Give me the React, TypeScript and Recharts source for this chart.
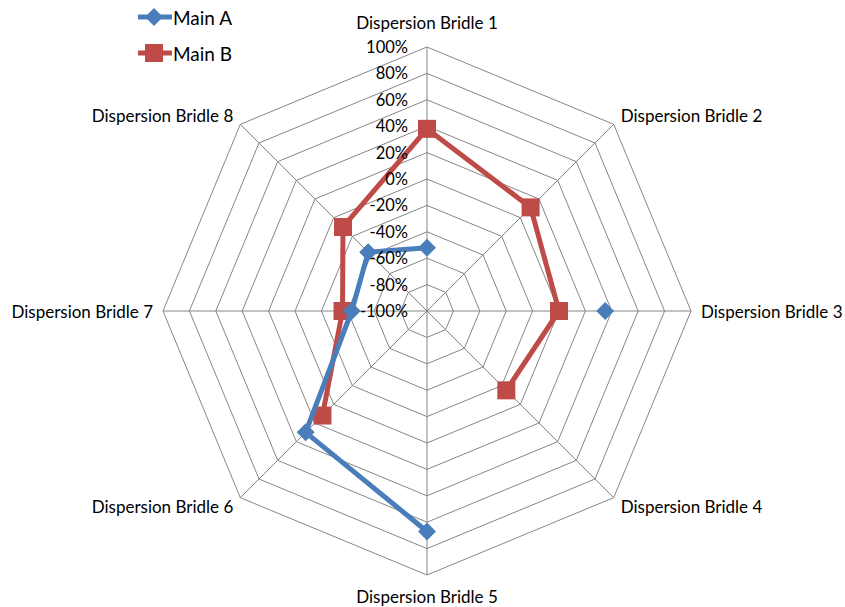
import React from 'react'
import { RadarChart, PolarGrid, PolarAngleAxis, PolarRadiusAxis, Radar, Legend } from 'recharts'

const bridles = [
  'Dispersion Bridle 1',
  'Dispersion Bridle 2',
  'Dispersion Bridle 3',
  'Dispersion Bridle 4',
  'Dispersion Bridle 5',
  'Dispersion Bridle 6',
  'Dispersion Bridle 7',
  'Dispersion Bridle 8',
]
const mainA = [-52, null, 35, null, 67, 30, -43, -37]
const mainB = [38, 11, 0, -15, null, 12, -36, -10]
const radiusTicks = [-100, -80, -60, -40, -20, 0, 20, 40, 60, 80, 100]

const BLUE = '#4A7EBB'
const RED = '#BE4B48'
const FONT = 'Lato, "Open Sans", sans-serif'

const data = bridles.map((name, i) => ({ name, a: mainA[i], b: mainB[i] }))

function marker(kind: string, x: number, y: number, color: string, key: any) {
  if (kind === 'diamond') {
    const s = 9
    return <path key={key} d={`M${x},${y - s}L${x + s},${y}L${x},${y + s}L${x - s},${y}Z`} fill={color} />
  }
  const s = 9
  return <rect key={key} x={x - s} y={y - s} width={s * 2} height={s * 2} fill={color} />
}

// draws the line only between neighbouring points that both have a value (wraps round)
function seriesShape(color: string, kind: string) {
  return (props: any) => {
    const pts = props.points || []
    const n = pts.length
    const ok = (p: any) => p && p.value != null && Number.isFinite(p.x) && Number.isFinite(p.y)
    const segs: string[] = []
    for (let i = 0; i < n; i++) {
      const p = pts[i]
      const q = pts[(i + 1) % n]
      if (ok(p) && ok(q)) segs.push(`M${p.x},${p.y}L${q.x},${q.y}`)
    }
    return (
      <g>
        <path d={segs.join('')} fill="none" stroke={color} strokeWidth={5} strokeLinecap="round" strokeLinejoin="round" />
        {pts.map((p: any, i: number) => (ok(p) ? marker(kind, p.x, p.y, color, i) : null))}
      </g>
    )
  }
}

function AngleTick(props: any) {
  const { x, y, cx, cy, payload } = props
  const ux = x - cx
  const uy = y - cy
  const len = Math.sqrt(ux * ux + uy * uy) || 1
  const nx = ux / len
  const ny = uy / len
  let anchor = 'middle'
  let ty = y
  if (nx > 0.01) anchor = 'start'
  else if (nx < -0.01) anchor = 'end'
  if (Math.abs(nx) < 0.01) ty = y + (ny < 0 ? -17 : 13)
  else ty = y + ny * 4
  return (
    <text x={x + nx * 2} y={ty} textAnchor={anchor} dominantBaseline="central" fontSize={17} fontFamily={FONT} fill="#000">
      {payload.value}
    </text>
  )
}

function RadiusTick(props: any) {
  const { x, y, payload } = props
  return (
    <text x={x - 19} y={y} textAnchor="end" dominantBaseline="central" fontSize={16.5} fontFamily={FONT} fill="#000">
      {payload.value + '%'}
    </text>
  )
}

function LegendBox() {
  return (
    <svg width={140} height={72}>
      <line x1={8} y1={17} x2={42} y2={17} stroke={BLUE} strokeWidth={5} />
      {marker('diamond', 24, 17, BLUE, 'a')}
      <text x={43} y={17} dominantBaseline="central" fontSize={19} fontFamily={FONT} fill="#000">Main A</text>
      <line x1={8} y1={53} x2={42} y2={53} stroke={RED} strokeWidth={5} />
      {marker('square', 24, 53, RED, 'b')}
      <text x={43} y={53} dominantBaseline="central" fontSize={19} fontFamily={FONT} fill="#000">Main B</text>
    </svg>
  )
}

export default function App() {
  return (
    <div style={{ position: 'absolute', left: 0, top: 0, background: '#fff' }}>
      <RadarChart width={845} height={607} data={data} cx={427} cy={311} outerRadius={264} margin={{ top: 0, right: 0, bottom: 0, left: 0 }}>
        <PolarGrid gridType="polygon" stroke="#868686" strokeOpacity={1} />
        <PolarAngleAxis dataKey="name" tick={<AngleTick />} tickLine={false} axisLine={false} />
        <PolarRadiusAxis
          angle={90}
          domain={[-100, 100]}
          ticks={radiusTicks as any}
          tickCount={11}
          tick={<RadiusTick />}
          axisLine={false}
          tickLine={false}
        />
        <Radar name="Main B" dataKey="b" stroke={RED} fill="none" isAnimationActive={false} shape={seriesShape(RED, 'square')} />
        <Radar name="Main A" dataKey="a" stroke={BLUE} fill="none" isAnimationActive={false} shape={seriesShape(BLUE, 'diamond')} />
        <Legend
          verticalAlign="top"
          align="left"
          wrapperStyle={{ position: 'absolute', top: 0, left: 130, width: 140 }}
          content={() => <LegendBox />}
        />
      </RadarChart>
    </div>
  )
}
